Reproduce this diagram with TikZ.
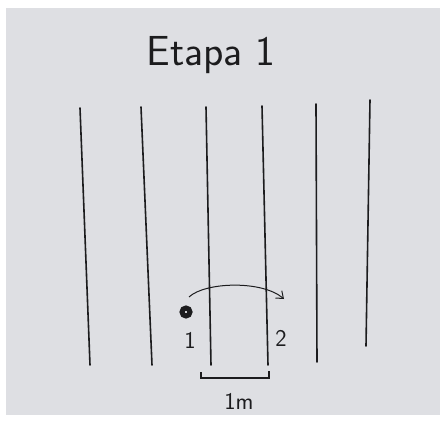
\documentclass[tikz,border=0pt]{standalone}
\usetikzlibrary{arrows.meta, positioning}
\definecolor{paper}{RGB}{222,223,227}
\definecolor{ink}{RGB}{28,28,30}

\begin{document}
\begin{tikzpicture}[
    x=1pt, y=-1pt,
    rowline/.style={draw=ink, line width=1.6pt, line cap=round},
    tag/.style={text=ink, inner sep=0pt, font=\sffamily\fontsize{24}{26}\selectfont},
    arrow/.style={-{Straight Barb[length=2.2mm, width=3.4mm]}, draw=ink, line width=1pt}
]
\useasboundingbox (0,0) rectangle (445,425);

% Paper
\fill[white] (0,0) rectangle (445,425);
\fill[paper] (6,8) rectangle (440,415);

% Title
\node[text=ink, font=\sffamily\fontsize{42}{46}\selectfont] (title) at (211,55) {Etapa 1};

% Rows
\draw[rowline] (80,108) -- (90,365);
\draw[rowline] (141,107) -- (152,365);
\draw[rowline] (206,107) -- (211,365);
\draw[rowline] (262,106) -- (268,365);
\draw[rowline] (316,104) -- (317,362);
\draw[rowline] (370,100) -- (366,346);

% Ball and positions
\node[circle, draw=ink, line width=5pt, fill=paper, minimum size=8pt, inner sep=0pt] (ball) at (186,312) {};
\node[tag] (one) at (190,340) {1};
\node[tag] (two) at (281,338) {2};

% Jump
\coordinate (from) at (189,297);
\coordinate (to) at (284,299);
\draw[arrow] (from) .. controls (205,282) and (262,280) .. (to);

% Distance
\coordinate (left) at (201,372);
\coordinate (right) at (269,371);
\draw[ink, line width=1.6pt] (left) -- ++(0,6) -| (right);
\node[tag] (dist) at (239,401) {1m};

\end{tikzpicture}
\end{document}
